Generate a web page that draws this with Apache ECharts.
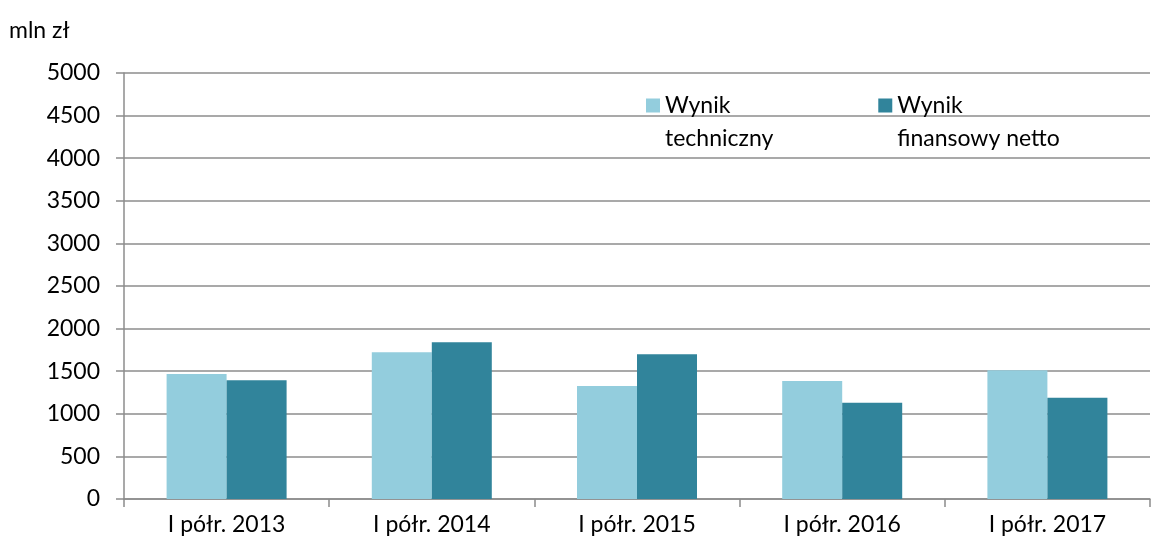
<!DOCTYPE html>
<html>
<head>
    <meta charset="utf-8" />
    <title>Wynik techniczny i finansowy</title>
    <script src="https://cdn.jsdelivr.net/npm/echarts@6/dist/echarts.min.js"></script>
    <style>
        body { margin: 0; background: #fff; }
    </style>
</head>
<body>
    <div id="main" style="width: 1160px;height:545px;"></div>
    <script type="text/javascript">
        // dane (mln zł)
        const categories = ['I półr. 2013', 'I półr. 2014', 'I półr. 2015', 'I półr. 2016', 'I półr. 2017'];
        const seriesNames = ['Wynik\ntechniczny', 'Wynik\nfinansowy netto'];
        const wynikTechniczny = [1466, 1721, 1326, 1385, 1510];
        const wynikNetto = [1395, 1839, 1698, 1129, 1188];
        const yTicks = { min: 0, max: 5000, interval: 500 };

        const font = 'Lato';
        const gridColor = '#8c8c8c';

        var myChart = echarts.init(document.getElementById('main'));

        // kwadrat na górze, niewidoczny punkt na dole -> ikona równa się z pierwszą linią tekstu
        const legendIcon = 'path://M0,0h14v14h-14z M0,47h0.01v0.01h-0.01z';

        var option = {
            animation: false,
            textStyle: { fontFamily: font },
            title: {
                text: 'mln zł',
                left: 4,
                top: 14,
                textStyle: { fontFamily: font, fontSize: 23, fontWeight: 'normal', color: '#000' }
            },
            legend: {
                left: 641,
                top: 84,
                itemGap: 105,
                itemWidth: 14,
                itemHeight: 47,
                icon: legendIcon,
                textStyle: {
                    fontFamily: font,
                    fontSize: 23,
                    color: '#000',
                    lineHeight: 33
                }
            },
            grid: {
                left: 124,
                right: 10,
                top: 73,
                bottom: 46
            },
            xAxis: {
                type: 'category',
                data: categories,
                axisLine: { lineStyle: { color: gridColor, width: 1.5 } },
                axisTick: { show: true, length: 8, lineStyle: { color: gridColor, width: 1.5 } },
                axisLabel: { fontFamily: font, fontSize: 23, color: '#000', margin: 14 }
            },
            yAxis: {
                type: 'value',
                min: yTicks.min,
                max: yTicks.max,
                interval: yTicks.interval,
                axisLine: { show: true, lineStyle: { color: gridColor, width: 1.5 } },
                axisTick: { show: true, length: 8, lineStyle: { color: gridColor, width: 1.5 } },
                splitLine: { lineStyle: { color: gridColor, width: 1.5 } },
                axisLabel: {
                    fontFamily: font, fontSize: 23, color: '#000', margin: 24,
                    formatter: function (v) { return String(v); }
                }
            },
            series: [{
                name: seriesNames[0],
                type: 'bar',
                data: wynikTechniczny,
                barWidth: 60,
                barGap: '0%',
                itemStyle: { color: '#93cddd' }
            }, {
                name: seriesNames[1],
                type: 'bar',
                data: wynikNetto,
                barWidth: 60,
                barGap: '0%',
                itemStyle: { color: '#31849b' }
            }]
        };

        myChart.setOption(option);
    </script>
</body>
</html>
